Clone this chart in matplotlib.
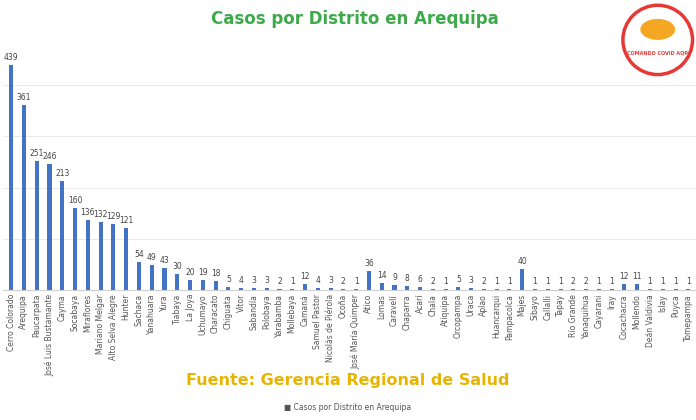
import matplotlib
matplotlib.use("Agg")
import matplotlib.pyplot as plt
from matplotlib.patches import Ellipse

districts = ["Cerro Colorado","Arequipa","Paucarpata","José Luis Bustamante","Cayma","Socabaya","Miraflores",
 "Mariano Melgar","Alto Selva Alegre","Hunter","Sachaca","Yanahuara","Yura","Tiabaya","La Joya","Uchumayo",
 "Characato","Chiguata","Vitor","Sabandía","Polobaya","Yarabamba","Mollebaya","Camaná","Samuel Pastor",
 "Nicolás de Piérola","Ocoña","José María Quimper","Atico","Lomas","Caravelí","Chaparra","Acarí","Chala",
 "Atiquipa","Orcopampa","Uraca","Aplao","Huancarqui","Pampacolca","Majes","Sibayo","Callalli","Tapay",
 "Río Grande","Yanaquihua","Cayarani","Iray","Cocachacra","Mollendo","Deán Valdivia","Islay","Puyca","Tomepampa"]
cases = [439,361,251,246,213,160,136,132,129,121,54,49,43,30,20,19,18,5,4,3,3,2,1,12,4,3,2,1,36,14,9,8,6,2,
 1,5,3,2,1,1,40,1,1,1,2,2,1,1,12,11,1,1,1,1]

fig = plt.figure(figsize=(6.96,4.2), dpi=100)
ax = fig.add_axes([0.005,0.31,0.995,0.56])
x = range(len(cases))
ax.bar(x, cases, width=0.32, color="#4472C4")
for i,v in zip(x,cases):
    ax.text(i, v+6, str(v), ha="center", va="bottom", fontsize=5.5, color="#444444")
ax.set_xlim(-0.6, len(cases)-0.4)
ax.set_ylim(0, 460)
ax.set_xticks(list(x))
ax.set_xticklabels(districts, rotation=90, fontsize=5.5, color="#555555")
ax.tick_params(axis="x", length=0, pad=3)
ax.set_yticks([100,200,300,400])
ax.tick_params(axis="y", length=0, labelleft=False)
ax.grid(axis="y", color="#e6e6e6", lw=0.6)
ax.set_axisbelow(True)
for s in ["top","right","left"]:
    ax.spines[s].set_visible(False)
ax.spines["bottom"].set_color("#d0d0d0")

fig.text(0.51, 0.955, "Casos por Distrito en Arequipa", ha="center", va="center",
         fontsize=12, fontweight="bold", color="#3DAA4A")
fig.text(0.5, 0.093, "Fuente: Gerencia Regional de Salud", ha="center", va="center",
         fontsize=11.5, fontweight="bold", color="#E8B400")
fig.text(0.5, 0.03, "■ Casos por Distrito en Arequipa", ha="center", va="center",
         fontsize=5.5, color="#555555")
fig.patches.append(Ellipse((0.945,0.905), 0.1, 0.165, transform=fig.transFigure,
                           facecolor="white", edgecolor="#E53935", lw=2.5))
fig.text(0.945, 0.87, "COMANDO COVID AQP", ha="center", fontsize=3.5, color="#E53935", fontweight="bold")
fig.patches.append(Ellipse((0.945,0.93), 0.05, 0.05, transform=fig.transFigure,
                           facecolor="#F5A623", edgecolor="none"))
fig.savefig("out.png", dpi=100)
